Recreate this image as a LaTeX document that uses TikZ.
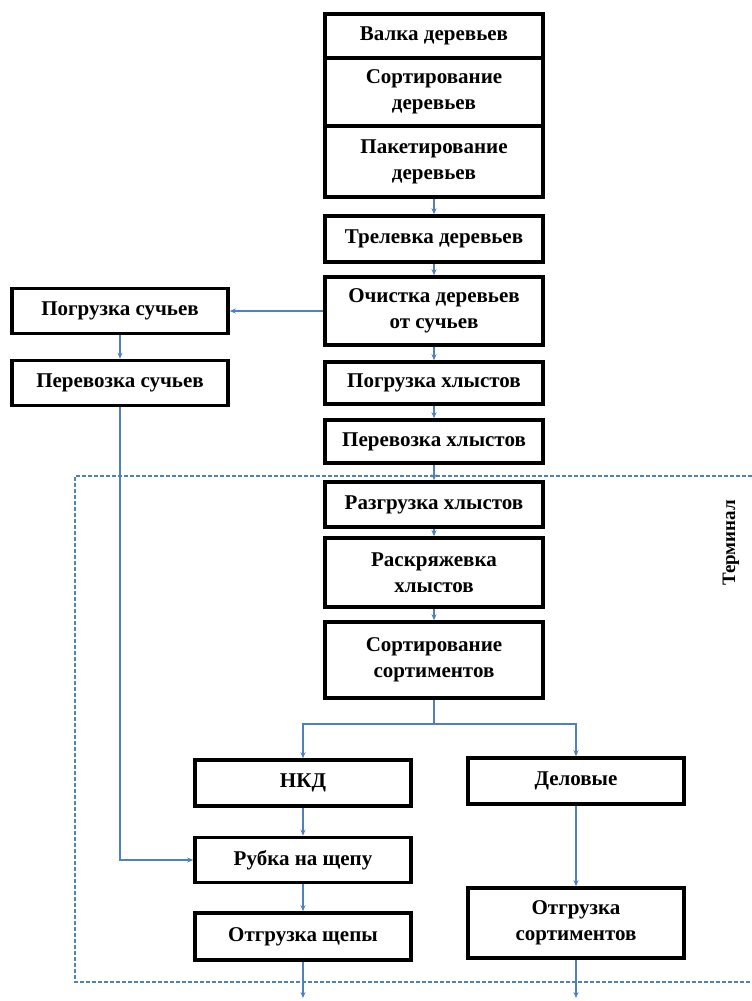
\documentclass[tikz,border=0pt]{standalone}
\usepackage{fontspec}
\setmainfont{Liberation Serif}
\usetikzlibrary{arrows.meta}
\definecolor{lnblue}{RGB}{79,129,189}
\tikzset{
  box/.style={draw=black, line width=3.6pt, fill=white, inner sep=0pt, align=center,
    font=\fontsize{21}{26}\selectfont\bfseries},
  conn/.style={draw=lnblue, line width=1.6pt, -{Stealth[length=6pt,width=5pt]}},
  plain/.style={draw=lnblue, line width=1.6pt},
  frame/.style={draw=lnblue, line width=1.3pt, dash pattern=on 4pt off 2pt}
}
\begin{document}
\begin{tikzpicture}[x=1pt,y=1pt]
\useasboundingbox (0,0) rectangle (752,-1001);
% central column
\node[box, minimum width=218pt, minimum height=44pt] (valka) at (434,-36) {Валка деревьев};
\node[box, minimum width=218pt, minimum height=68pt] (sortder) at (434,-92) {Сортирование\\деревьев};
\node[box, minimum width=218pt, minimum height=71pt] (paket) at (434,-161.5) {Пакетирование\\деревьев};
\node[box, minimum width=218pt, minimum height=46pt] (trel) at (434,-239) {Трелевка деревьев};
\node[box, minimum width=218pt, minimum height=68pt] (ochist) at (434,-311) {Очистка деревьев\\от сучьев};
\node[box, minimum width=218pt, minimum height=42pt] (pogrh) at (434,-383) {Погрузка хлыстов};
\node[box, minimum width=218pt, minimum height=43pt] (perevh) at (434,-441.5) {Перевозка хлыстов};
\node[box, minimum width=218pt, minimum height=45pt] (razgr) at (434,-504.5) {Разгрузка хлыстов};
\node[box, minimum width=218pt, minimum height=69pt] (raskr) at (434,-572.5) {Раскряжевка\\хлыстов};
\node[box, minimum width=218pt, minimum height=76pt] (sortsort) at (434,-660) {Сортирование\\сортиментов};
% left branch
\node[box, minimum width=216pt, minimum height=45pt] (pogrs) at (120,-311) {Погрузка сучьев};
\node[box, minimum width=216pt, minimum height=45pt] (perevs) at (120,-383) {Перевозка сучьев};
% lower part
\node[box, minimum width=216pt, minimum height=46pt] (nkd) at (303,-783) {НКД};
\node[box, minimum width=216pt, minimum height=46pt] (delov) at (576,-781) {Деловые};
\node[box, minimum width=216pt, minimum height=45pt] (rubka) at (303,-860) {Рубка на щепу};
\node[box, minimum width=216pt, minimum height=47pt] (otgrsh) at (303,-936.5) {Отгрузка щепы};
\node[box, minimum width=216pt, minimum height=70pt] (otgrsort) at (576,-923) {Отгрузка\\сортиментов};
% terminal label
\node[rotate=90, inner sep=0pt, font=\fontsize{19}{22}\selectfont\bfseries] (term) at (731,-543) {Терминал};
% dashed frame
\coordinate (ftr) at (752,-476);
\coordinate (ftl) at (75,-476);
\coordinate (fbl) at (75,-982);
\coordinate (fbr) at (752,-982);
\draw[frame] (ftr) -- (ftl) -- (fbl) -- (fbr);
% connectors
\draw[conn] (paket.south) -- (trel.north);
\draw[conn] (trel.south) -- (ochist.north);
\draw[conn] (ochist.south) -- (pogrh.north);
\draw[conn] (pogrh.south) -- (perevh.north);
\draw[conn] (perevh.south) -- (razgr.north);
\draw[conn] (razgr.south) -- (raskr.north);
\draw[conn] (raskr.south) -- (sortsort.north);
\coordinate (br) at (434,-724);
\draw[plain] (sortsort.south) -- (br);
\draw[conn] (br) -| (nkd.north);
\draw[conn] (br) -| (delov.north);
\draw[conn] (ochist.west) -- (pogrs.east);
\draw[conn] (pogrs.south) -- (perevs.north);
\draw[conn] (perevs.south) |- (rubka.west);
\draw[conn] (nkd.south) -- (rubka.north);
\draw[conn] (rubka.south) -- (otgrsh.north);
\draw[conn] (delov.south) -- (otgrsort.north);
\coordinate (outl) at (303,-998);
\coordinate (outr) at (576,-998);
\draw[conn] (otgrsh.south) -- (outl);
\draw[conn] (otgrsort.south) -- (outr);
\end{tikzpicture}
\end{document}
